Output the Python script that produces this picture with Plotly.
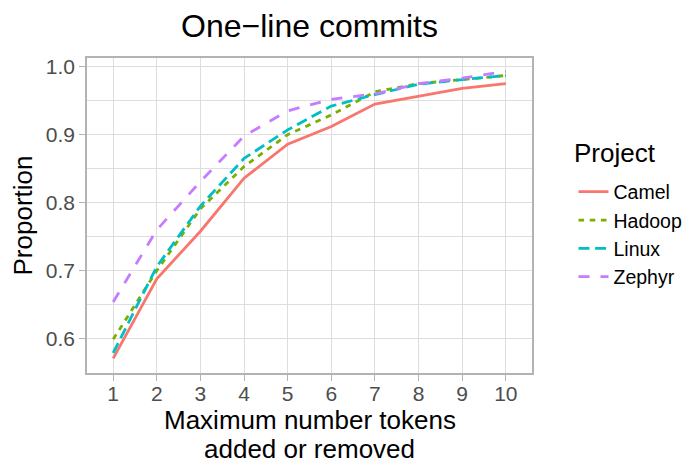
import plotly.graph_objects as go

tokens = [1, 2, 3, 4, 5, 6, 7, 8, 9, 10]
projects = ["Camel", "Hadoop", "Linux", "Zephyr"]
camel = [0.571, 0.688, 0.758, 0.836, 0.886, 0.912, 0.945, 0.957, 0.968, 0.975]
hadoop = [0.599, 0.700, 0.791, 0.853, 0.900, 0.929, 0.963, 0.975, 0.981, 0.987]
linux = [0.579, 0.706, 0.795, 0.865, 0.907, 0.942, 0.959, 0.974, 0.981, 0.987]
zephyr = [0.654, 0.760, 0.831, 0.898, 0.935, 0.952, 0.960, 0.975, 0.983, 0.993]
y_ticks = [0.6, 0.7, 0.8, 0.9, 1.0]

series = [camel, hadoop, linux, zephyr]
colors = ["#F8766D", "#7CAE00", "#00BFC4", "#C77CFF"]
dashes = ["solid", "5.6px,5.6px", "11px,5.6px", "11px,11px"]

FONT = "Liberation Sans"
W, H = 684, 456           # page body adds an 8px offset
L, R, T, B = 79, 160, 50, 91
PW, PH = W - L - R, H - T - B


def px_x(p):
    return (p - L) / PW


def px_y(p):
    return (T + PH - p) / PH


fig = go.Figure()
for name, vals, col, dash in zip(projects, series, colors, dashes):
    fig.add_trace(go.Scatter(
        x=tokens, y=vals, name=name, mode="lines",
        line=dict(color=col, width=2.8, dash=dash),
    ))

fig.update_layout(
    width=W, height=H,
    margin=dict(l=L, r=R, t=T, b=B, autoexpand=False),
    paper_bgcolor="white", plot_bgcolor="white",
    font=dict(family=FONT, color="black"),
    title=dict(text="One\u2212line commits", x=0.5, xref="paper",
               y=1 - 18.2 / H, yref="container", yanchor="middle",
               xanchor="center", font=dict(size=32, color="black")),
    legend=dict(
        font=dict(size=19.5, color="black"),
        x=px_x(565.5), xanchor="left", y=px_y(226.5), yanchor="middle",
        bgcolor="rgba(0,0,0,0)", tracegroupgap=0,
    ),
    xaxis=dict(
        range=[0.4, 10.6], tickvals=tokens, ticktext=[str(t) for t in tokens],
        showgrid=True, gridcolor="#DEDEDE", gridwidth=1.3,
        zeroline=False, showline=True, linecolor="#B3B3B3", linewidth=1.5,
        mirror=True, ticks="outside", ticklen=6, tickcolor="#B3B3B3",
        tickwidth=1.3, automargin=False, ticklabelstandoff=-5,
        tickfont=dict(size=21, color="#4D4D4D"),
    ),
    yaxis=dict(
        range=[0.5495, 1.0127], tickvals=y_ticks,
        ticktext=["%.1f" % v for v in y_ticks],
        showgrid=True, gridcolor="#DEDEDE", gridwidth=1.3,
        minor=dict(tick0=0.55, dtick=0.1, showgrid=True,
                   gridcolor="#DEDEDE", gridwidth=0.8),
        zeroline=False, showline=True, linecolor="#B3B3B3", linewidth=1.5,
        mirror=True, ticks="outside", ticklen=6, tickcolor="#B3B3B3",
        tickwidth=1.3, automargin=False,
        tickfont=dict(size=21, color="#4D4D4D"),
    ),
    annotations=[
        dict(text="Maximum number tokens", xref="paper", yref="paper",
             x=0.5, y=px_y(412.5), xanchor="center", yanchor="middle",
             showarrow=False, font=dict(size=26, color="black")),
        dict(text="added or removed", xref="paper", yref="paper",
             x=0.5, y=px_y(441), xanchor="center", yanchor="middle",
             showarrow=False, font=dict(size=26, color="black")),
        dict(text="Proportion", xref="paper", yref="paper",
             x=px_x(14), y=0.5, xanchor="center", yanchor="middle",
             textangle=-90, showarrow=False,
             font=dict(size=26, color="black")),
        dict(text="Project", xref="paper", yref="paper",
             x=px_x(564), y=px_y(145), xanchor="left", yanchor="middle",
             showarrow=False, font=dict(size=26, color="black")),
    ],
)

fig.write_html("out.html")
